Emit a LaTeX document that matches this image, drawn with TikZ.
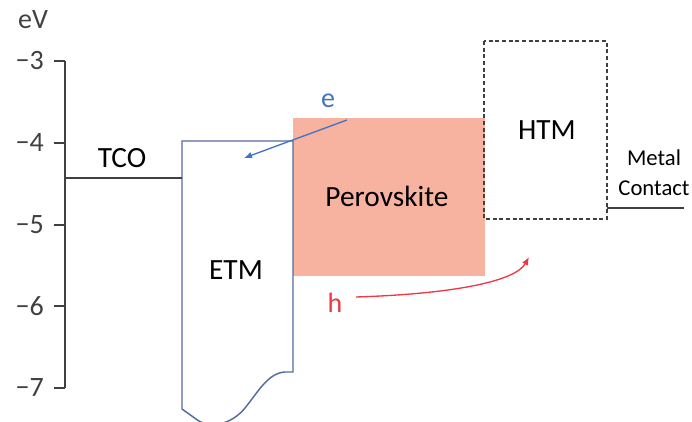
\documentclass[tikz,border=0pt]{standalone}
\usepackage{fontspec}
\setmainfont{Carlito}
\usetikzlibrary{arrows.meta}
\definecolor{axisgray}{RGB}{64,64,64}
\definecolor{etmblue}{RGB}{84,108,158}
\definecolor{elecblue}{RGB}{68,114,196}
\definecolor{perofill}{RGB}{248,178,160}
\definecolor{holered}{RGB}{238,56,70}
\tikzset{
  bigtxt/.style={inner sep=0.75pt,font=\fontsize{22}{26}\selectfont},
  smalltxt/.style={inner sep=0.75pt,font=\fontsize{17}{20}\selectfont},
  ticktxt/.style={inner sep=0.75pt,font=\fontsize{21}{24}\selectfont,text=axisgray},
  carrier/.style={inner sep=0.75pt,font=\fontsize{21}{24}\selectfont}
}
\begin{document}
\begin{tikzpicture}[x=0.75pt,y=0.75pt,yscale=-1,xscale=1]
\useasboundingbox (0,0) rectangle (692,421);
% energy axis
\draw [axisgray,line width=1.1] (65,61) -- (65,388) ;
\foreach \v/\y in {3/61,4/143,5/225,6/306,7/388} {
  \draw [axisgray,line width=1.1] (54,\y) -- (65,\y) ;
  \node [ticktxt,anchor=east] (tick\v) at (45,\y) {−\v};
}
\node [ticktxt] (unit) at (33,20) {eV};

%Shape: Perovskite
\fill [perofill] (293,118) rectangle (485,276) ;
\node [bigtxt] (pero) at (387,196) {Perovskite};

%Shape: ETM
\draw [etmblue,line width=1.1] (182,409) -- (182,141) -- (293,141) -- (293,372) -- (285,372)
  .. controls (268,373) and (258,392) .. (245,408)
  .. controls (232,424) and (210,430) .. (196,419) -- cycle ;
\node [bigtxt] (etm) at (236,270) {ETM};

%Shape: HTM
\draw [axisgray,line width=1.1,dash pattern={on 3pt off 2pt}] (484,41) rectangle (607,219) ;
\node [bigtxt] (htm) at (547,130) {HTM};

% contacts
\coordinate (tcoL) at (65,178);
\coordinate (tcoR) at (182,178);
\draw [axisgray,line width=1.1] (tcoL) -- (tcoR) ;
\node [bigtxt] (tco) at (122,158) {TCO};
\coordinate (metL) at (607,208);
\coordinate (metR) at (684,208);
\draw [axisgray,line width=1.1] (metL) -- (metR) ;
\node [smalltxt] (metal) at (654,158) {Metal};
\node [smalltxt] (contact) at (654,188) {Contact};

% carriers
\node [carrier,text=elecblue] (e) at (328,101) {e};
\coordinate (eS) at (347,120);
\coordinate (eE) at (244,158);
\draw [elecblue,line width=1,-{Latex[length=6pt,width=5pt]}] (eS) -- (eE) ;
\node [carrier,text=holered] (h) at (335,303) {h};
\coordinate (hS) at (356,297);
\coordinate (hE) at (529,257);
\draw [holered,line width=1,-{Latex[length=6pt,width=5pt]}] (hS) .. controls (450,294) and (515,282) .. (hE) ;
\end{tikzpicture}
\end{document}
